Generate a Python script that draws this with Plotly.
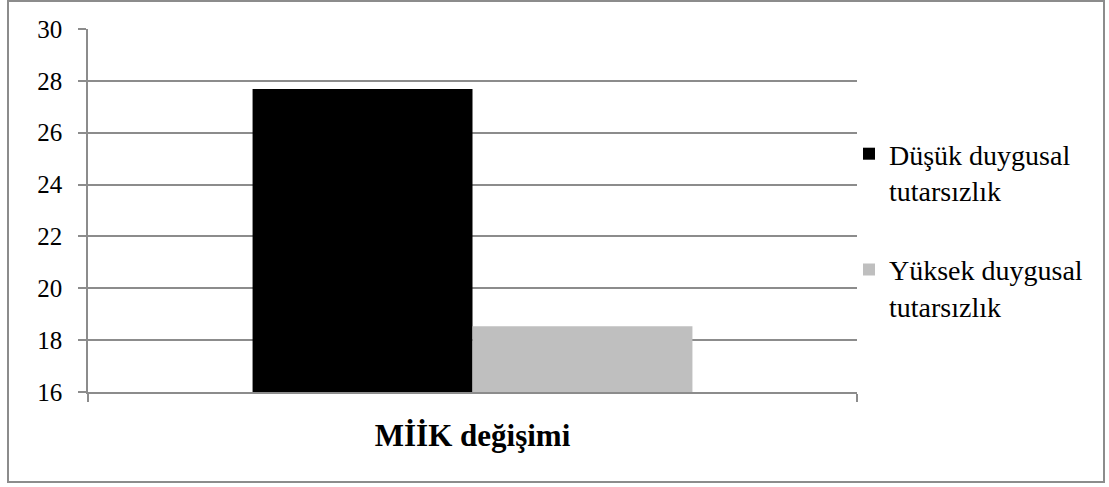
import plotly.graph_objects as go

categories = ["MİİK değişimi"]
series_names = ["Düşük duygusal<br>tutarsızlık", "Yüksek duygusal<br>tutarsızlık"]
series_values = [[27.69], [18.54]]
series_colors = ["#000000", "#BFBFBF"]
y_ticks = [16, 18, 20, 22, 24, 26, 28, 30]

W, H = 1109, 487
ML, MR, MT, MB = 88, 252, 29, 95
PW = W - ML - MR
PH = H - MT - MB

FONT = "Liberation Serif, Times New Roman, serif"
GRID = "#8C8C8C"

fig = go.Figure()
for i, (name, vals, col) in enumerate(zip(series_names, series_values, series_colors)):
    fig.add_trace(go.Bar(
        x=categories, y=vals, name=name, marker=dict(color=col, line=dict(width=0)),
        legendgroup=f"g{i}",
    ))

def px_x(p):
    return (p - ML) / PW

def px_y(p):
    return (H - MB - p) / PH

fig.update_layout(
    width=W, height=H,
    margin=dict(l=ML, r=MR, t=MT, b=MB, pad=0),
    paper_bgcolor="white", plot_bgcolor="white",
    barmode="group", bargap=0.428, bargroupgap=0,
    font=dict(family=FONT, color="black"),
    showlegend=True,
    legend=dict(
        x=px_x(849), y=px_y(129), xanchor="left", yanchor="top",
        font=dict(family=FONT, size=28, color="black"),
        valign="top", tracegroupgap=40, traceorder="grouped",
        bgcolor="rgba(0,0,0,0)",
    ),
    xaxis=dict(
        type="category", showgrid=False, showline=True, linecolor=GRID, linewidth=1.5,
        ticks="outside", tickson="boundaries", ticklen=8, tickcolor=GRID, tickwidth=1.5,
        tickfont=dict(family=FONT, size=31, color="black", weight="bold"),
        ticklabelstandoff=15,
    ),
    yaxis=dict(
        range=[16, 30], tickvals=y_ticks, showgrid=True, gridcolor=GRID, gridwidth=1.5,
        showline=True, linecolor=GRID, linewidth=1.5, zeroline=False,
        ticks="outside", ticklen=8, tickcolor=GRID, tickwidth=1.5,
        tickfont=dict(family=FONT, size=25, color="black"),
        ticklabelstandoff=11,
    ),
    shapes=[dict(
        type="rect", xref="paper", yref="paper",
        x0=px_x(8), x1=px_x(1104), y0=px_y(482), y1=px_y(1),
        line=dict(color="#8C8C8C", width=2), fillcolor="rgba(0,0,0,0)", layer="below",
    )],
)

fig.write_html("out.html")
